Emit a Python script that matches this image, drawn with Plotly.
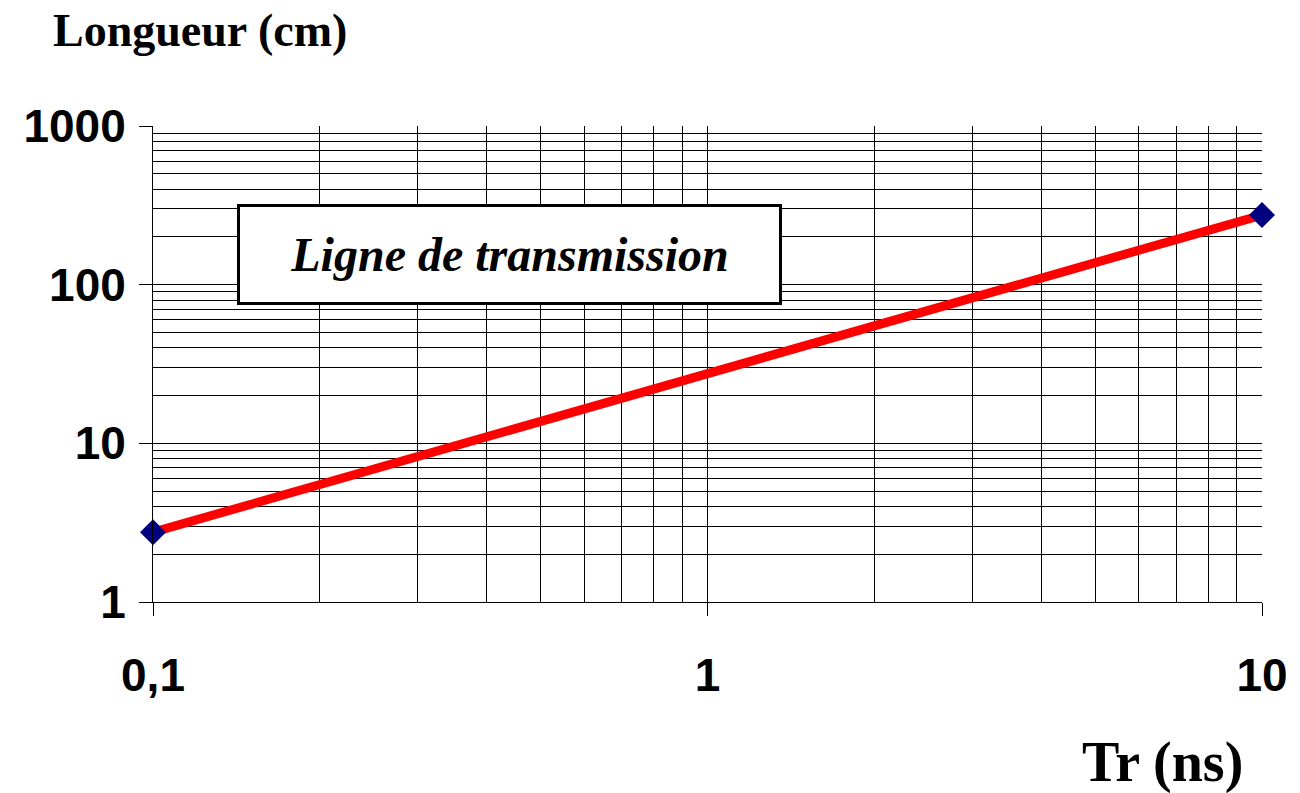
import plotly.graph_objects as go

# Rise time (ns) versus critical line length (cm)
tr_ns = [0.1, 10]
longueur_cm = [2.75, 275]

x_tickvals = [0.1, 1, 10]
x_ticktext = ["0,1", "1", "10"]
y_tickvals = [1, 10, 100, 1000]
y_ticktext = ["1", "10", "100", "1000"]

label_font = dict(family="Liberation Sans, Arial, sans-serif", size=46, color="black", weight="bold")
serif_bold = "Liberation Serif, Times New Roman, serif"

fig = go.Figure()
fig.add_trace(go.Scatter(
    x=tr_ns, y=longueur_cm, mode="lines+markers",
    line=dict(color="#ff0000", width=9),
    marker=dict(symbol="diamond", size=20, color="#000080"),
    cliponaxis=False, showlegend=False,
))

grid = dict(showgrid=True, gridcolor="#000000", gridwidth=1)
fig.update_xaxes(
    type="log", range=[-1, 1],
    tickvals=x_tickvals, ticktext=x_ticktext,
    ticks="outside", ticklen=13, tickcolor="black", tickwidth=1,
    showline=True, linecolor="black", linewidth=1,
    tickfont=label_font, ticklabelstandoff=20,
    minor=dict(dtick="D1", showgrid=True, gridcolor="#000000", gridwidth=1, ticks=""),
    zeroline=False, **grid,
)
fig.update_yaxes(
    type="log", range=[0, 3],
    tickvals=y_tickvals, ticktext=y_ticktext,
    ticks="outside", ticklen=13, tickcolor="black", tickwidth=1,
    showline=True, linecolor="black", linewidth=1,
    tickfont=label_font, ticklabelstandoff=4,
    minor=dict(dtick="D1", showgrid=True, gridcolor="#000000", gridwidth=1, ticks=""),
    zeroline=False, **grid,
)

fig.add_annotation(
    xref="paper", yref="paper", x=0.0753, y=0.730, xanchor="left", yanchor="middle",
    text="<b><i>Ligne de transmission</i></b>",
    font=dict(family=serif_bold, size=48, color="black"),
    showarrow=False, bgcolor="white", bordercolor="black", borderwidth=3,
    borderpad=0, width=539, height=95, align="center",
)
fig.add_annotation(
    xref="paper", yref="paper", x=-0.092, y=1.2, xanchor="left", yanchor="middle",
    text="<b>Longueur (cm)</b>",
    font=dict(family=serif_bold, size=46, color="black"), showarrow=False,
)
fig.add_annotation(
    xref="paper", yref="paper", x=0.985, y=-0.338, xanchor="right", yanchor="middle",
    text="<b>Tr (ns)</b>",
    font=dict(family=serif_bold, size=56, color="black"), showarrow=False,
)

fig.update_layout(
    width=1300, height=793,
    margin=dict(l=153, r=32, t=126, b=191),
    paper_bgcolor="white", plot_bgcolor="white",
    separators=", ",
)

fig.write_html("out.html")
